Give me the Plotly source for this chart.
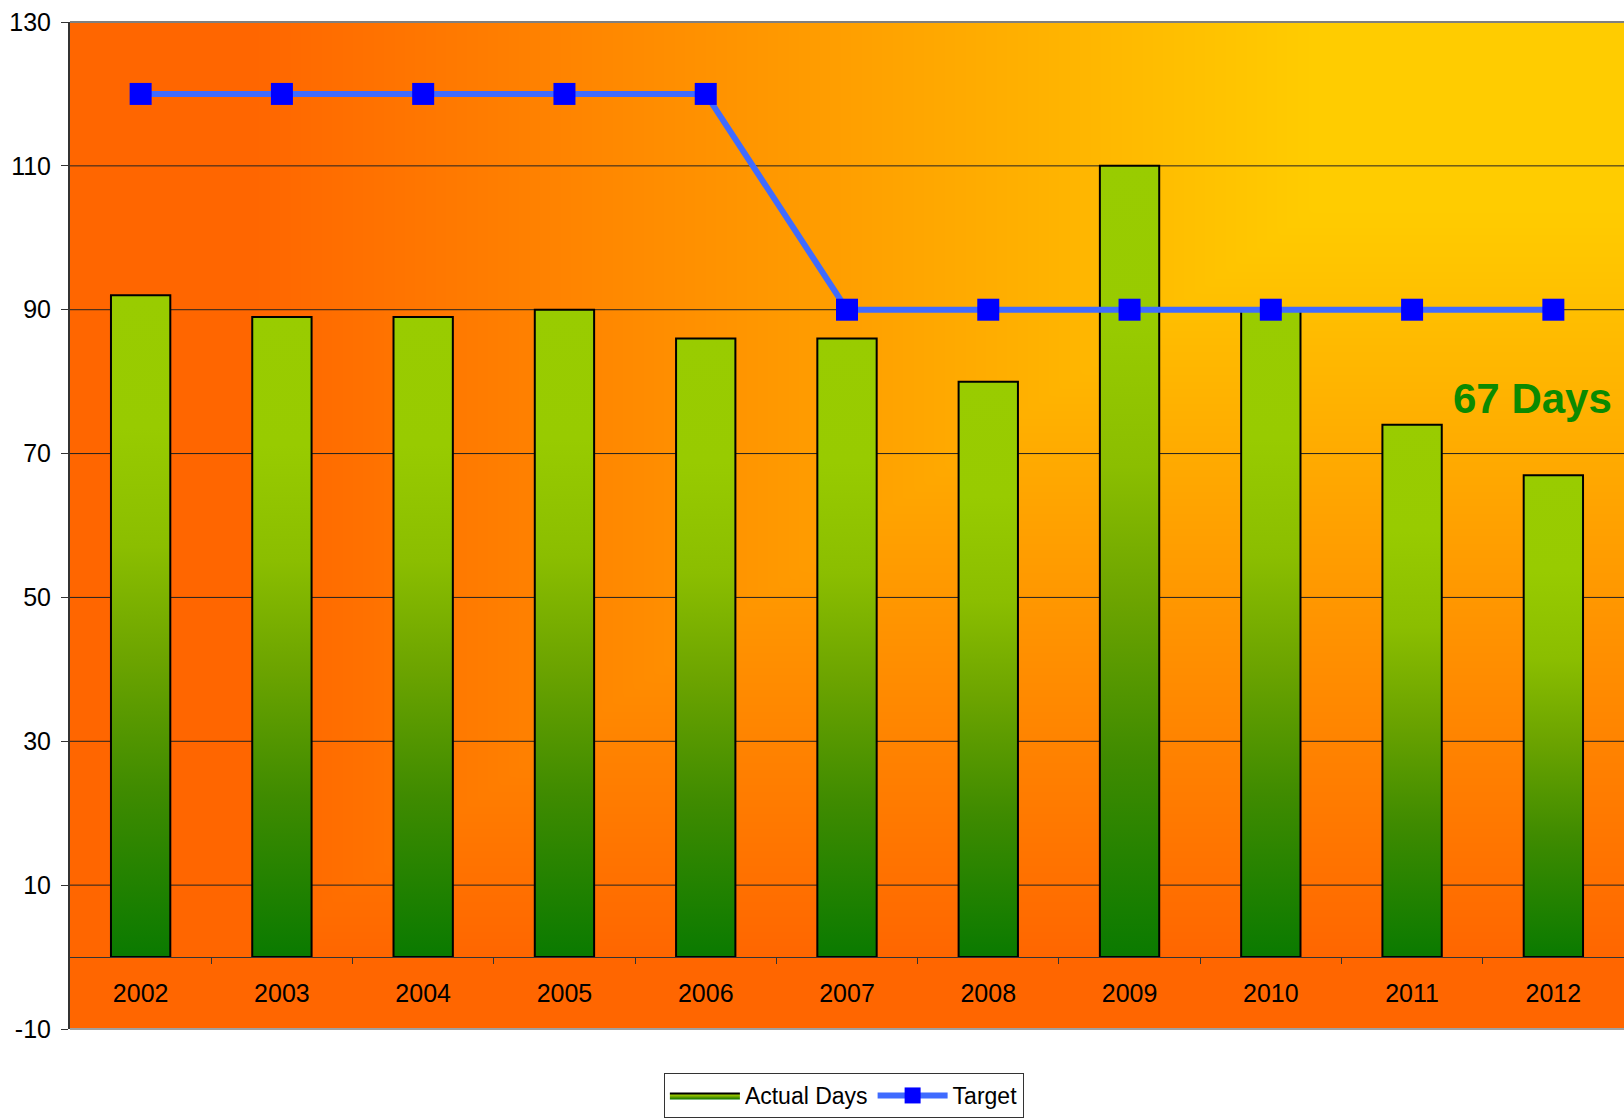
import numpy as np
import plotly.graph_objects as go

# ---- data ----
years = ["2002", "2003", "2004", "2005", "2006", "2007", "2008", "2009", "2010", "2011", "2012"]
actual_days = [92, 89, 89, 90, 86, 86, 80, 110, 90, 74, 67]
target_days = [120, 120, 120, 120, 120, 90, 90, 90, 90, 90, 90]
y_tick_values = [-10, 10, 30, 50, 70, 90, 110, 130]
y_tick_labels = ["-10", "10", "30", "50", "70", "90", "110", "130"]
y_grid_values = [10, 30, 50, 70, 90, 110]

Y_MIN, Y_MAX = -10, 130
X_MIN, X_MAX = -0.5, len(years) - 0.5
FONT = "Liberation Sans, Arial, sans-serif"

BAR_SCALE = [
    [0.0, "#0a7a00"],
    [0.25, "#3f8b00"],
    [0.45, "#6ca400"],
    [0.62, "#8bbe00"],
    [0.8, "#98cb00"],
    [1.0, "#99cc00"],
]
BG_SCALE = [[0.0, "#ffcc00"], [1.0, "#ff6600"]]

xpos = list(range(len(years)))
fig = go.Figure()

# background: corner gradient, yellow top-right fading to orange
gx = np.linspace(X_MIN - 0.1, X_MAX + 0.1, 240)
gy = np.linspace(Y_MIN - 1, Y_MAX + 1, 160)
GX, GY = np.meshgrid(gx, gy)
h_part = np.clip((8.3 - GX) / (8.3 - 0.8), 0, 1)
v_part = np.clip((104 - GY) / (104 - 0), 0, 1)
fig.add_trace(go.Heatmap(
    x=gx, y=gy, z=np.maximum(h_part, v_part),
    colorscale=BG_SCALE, zmin=0, zmax=1, zsmooth="best",
    showscale=False, hoverinfo="skip",
))

# horizontal gridlines (kept above the background, below the bars)
grid_x, grid_y = [], []
for g in y_grid_values:
    grid_x += [X_MIN, X_MAX, None]
    grid_y += [g, g, None]
fig.add_trace(go.Scatter(
    x=grid_x, y=grid_y, mode="lines",
    line=dict(color="#222222", width=1),
    showlegend=False, hoverinfo="skip",
))

# bars with a vertical green gradient
half_w = 0.21
for i, v in zip(xpos, actual_days):
    fig.add_trace(go.Scatter(
        x=[i - half_w, i - half_w, i + half_w, i + half_w, i - half_w],
        y=[0, v, v, 0, 0],
        mode="lines", fill="toself",
        fillgradient=dict(type="vertical", colorscale=BAR_SCALE),
        line=dict(color="#000000", width=2),
        name="Actual Days", legendgroup="actual",
        showlegend=(i == 0),
        hovertemplate=f"{years[i]}: {v}<extra></extra>",
    ))

# target line
fig.add_trace(go.Scatter(
    x=xpos, y=target_days, mode="lines+markers", name="Target",
    line=dict(color="#3f6bff", width=6),
    marker=dict(symbol="square", size=22, color="#0000ff", line=dict(width=0)),
))

fig.add_annotation(
    x=9.85, y=77.6, xref="x", yref="y",
    text=f"<b>{actual_days[-1]} Days</b>", showarrow=False,
    font=dict(family=FONT, size=42, color="#0b8a00"),
)

# plot frame
fig.add_shape(type="line", xref="paper", yref="paper", x0=0, x1=1, y0=1, y1=1,
              line=dict(color="#808080", width=2), layer="above")
fig.add_shape(type="line", xref="paper", yref="paper", x0=0, x1=1, y0=0, y1=0,
              line=dict(color="#a0a0a0", width=2), layer="above")

fig.update_layout(
    width=1624, height=1118,
    margin=dict(l=70, r=0, t=22, b=88),
    paper_bgcolor="#ffffff", plot_bgcolor="#ff6600",
    font=dict(family=FONT, size=25, color="#000000"),
    showlegend=True,
    legend=dict(
        orientation="h", x=0.498, xanchor="center", y=-0.044, yanchor="top",
        bgcolor="#ffffff", bordercolor="#333333", borderwidth=1,
        font=dict(family=FONT, size=23, color="#000000"),
        itemwidth=70, traceorder="normal",
    ),
    xaxis=dict(
        range=[X_MIN, X_MAX], tickmode="array", tickvals=xpos, ticktext=years,
        ticks="", showgrid=False, zeroline=False,
        anchor="free", position=(0 - Y_MIN) / (Y_MAX - Y_MIN),
        showline=True, linecolor="#333333", linewidth=1,
        ticklabelstandoff=14,
        minor=dict(tickvals=[i + 0.5 for i in xpos[:-1]], ticks="outside",
                   ticklen=6, tickcolor="#333333", tickwidth=1, showgrid=False),
        tickfont=dict(family=FONT, size=25),
    ),
    yaxis=dict(
        range=[Y_MIN, Y_MAX], tickmode="array", tickvals=y_tick_values,
        ticktext=y_tick_labels,
        ticks="outside", ticklen=7, tickcolor="#333333", tickwidth=1,
        showgrid=False, zeroline=False,
        showline=True, linecolor="#333333", linewidth=2,
        ticklabelstandoff=5,
        tickfont=dict(family=FONT, size=25),
    ),
)

fig.write_html("out.html")
